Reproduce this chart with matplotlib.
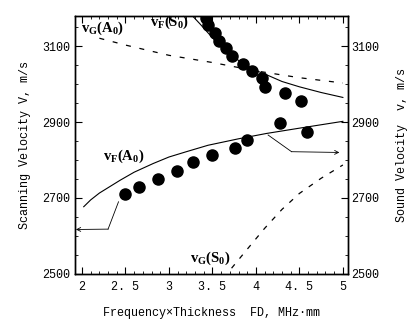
import matplotlib
matplotlib.use("Agg")
import matplotlib.pyplot as plt
from matplotlib.ticker import MultipleLocator

# ---------------- measured points ----------------
fd_a0 = [2.49, 2.66, 2.87, 3.09, 3.28, 3.49, 3.76, 3.90, 4.28, 4.59]
v_a0 = [2711, 2730, 2750, 2772, 2794, 2813, 2832, 2853, 2897, 2874]

fd_s0 = [3.43, 3.45, 3.53, 3.58, 3.66, 3.73, 3.85, 3.96, 4.07, 4.10, 4.33, 4.52]
v_s0 = [3175, 3155, 3135, 3114, 3094, 3074, 3054, 3034, 3015, 2993, 2977, 2956]

# ---------------- theory curves ----------------
fd_vf_a0 = [2.02, 2.1, 2.2, 2.32, 2.44, 2.6, 2.82, 3.0, 3.2, 3.45, 3.8, 4.12, 4.5, 5.0]
vf_a0 = [2677, 2695, 2713, 2730, 2747, 2768, 2791, 2808, 2822, 2839, 2856, 2870, 2884, 2902]

fd_vf_s0 = [3.27, 3.36, 3.45, 3.55, 3.7, 3.85, 4.0, 4.15, 4.3, 4.5, 4.75, 5.0]
vf_s0 = [3180, 3158, 3135, 3110, 3078, 3055, 3036, 3022, 3007, 2993, 2978, 2965]

fd_vg_a0 = [2.2, 2.5, 3.0, 3.5, 4.0, 4.5, 5.0]
vg_a0 = [3121, 3103, 3076, 3057, 3035, 3017, 3003]

fd_vg_s0 = [3.72, 3.9, 4.1, 4.3, 4.5, 4.75, 5.0]
vg_s0 = [2515, 2565, 2620, 2670, 2712, 2752, 2787]

# arrows: start, bend, end
arrow_left = [(2.42, 2690), (2.30, 2618), (1.93, 2617)]
arrow_right = [(4.14, 2866), (4.41, 2822), (4.96, 2820)]

xticks = [2, 2.5, 3, 3.5, 4, 4.5, 5]
xticklabels = ["2", "2. 5", "3", "3. 5", "4", "4. 5", "5"]
yticks = [2500, 2700, 2900, 3100]

mono = "Liberation Mono"
serif = "Liberation Serif"
plt.rcParams["mathtext.default"] = "regular"

fig = plt.figure(figsize=(4.1, 3.3), dpi=100)
ax = fig.add_axes([0.183, 0.170, 0.666, 0.782])

ax.plot(fd_vf_a0, vf_a0, color="black", lw=0.8)
ax.plot(fd_vf_s0, vf_s0, color="black", lw=0.8)
ax.plot(fd_vg_a0, vg_a0, color="black", lw=0.9, ls=(0, (4, 7)))
ax.plot(fd_vg_s0, vg_s0, color="black", lw=0.9, ls=(0, (4, 6)))

ax.plot(fd_a0, v_a0, "o", color="black", ms=8)
ax.plot(fd_s0, v_s0, "o", color="black", ms=8)

for path in (arrow_left, arrow_right):
    ax.plot([path[0][0], path[1][0]], [path[0][1], path[1][1]], color="black", lw=0.6)
    ax.annotate("", xy=path[2], xytext=path[1],
                arrowprops=dict(arrowstyle="->", color="black", lw=0.6,
                                shrinkA=0, shrinkB=0, mutation_scale=7))

lab = dict(fontfamily=serif, fontweight="bold", fontsize=10.5, ha="center", va="center")
ax.text(2.24, 3147, "v$_G$(A$_0$)", **lab)
ax.text(3.01, 3163, "v$_F$(S$_0$)", **lab)
ax.text(2.48, 2809, "v$_F$(A$_0$)", **lab)
ax.text(3.48, 2542, "v$_G$(S$_0$)", **lab)

ax.set_xlim(1.92, 5.06)
ax.set_ylim(2500, 3180)
ax.set_xticks(xticks)
ax.set_xticklabels(xticklabels)
ax.set_yticks(yticks)
ax.xaxis.set_minor_locator(MultipleLocator(0.1))
ax.yaxis.set_minor_locator(MultipleLocator(50))
ax.tick_params(which="both", direction="in", top=True, right=True,
               labelfontfamily=mono, labelsize=8.5)
ax.tick_params(which="major", length=5, width=0.8)
ax.tick_params(which="minor", length=2.5, width=0.6)
ax.tick_params(axis="x", pad=5)

ax2 = ax.twinx()
ax2.set_ylim(ax.get_ylim())
ax2.set_yticks(yticks)
ax2.tick_params(which="major", direction="in", length=5, width=0.8,
                labelfontfamily=mono, labelsize=8.5, pad=2)
ax2.yaxis.set_minor_locator(MultipleLocator(50))
ax2.tick_params(which="minor", direction="in", length=2.5, width=0.6)

for a in (ax, ax2):
    for s in a.spines.values():
        s.set_linewidth(1.0)

ax.set_xlabel("Frequency×Thickness  FD, MHz·mm", fontfamily=mono, fontsize=8.5, labelpad=10)
ax.set_ylabel("Scanning Velocity V, m/s", fontfamily=mono, fontsize=8.5, labelpad=8)
ax2.set_ylabel("Sound Velocity  v, m/s", fontfamily=mono, fontsize=8.5, labelpad=12)

fig.savefig("out.png", dpi=100, facecolor="white")
